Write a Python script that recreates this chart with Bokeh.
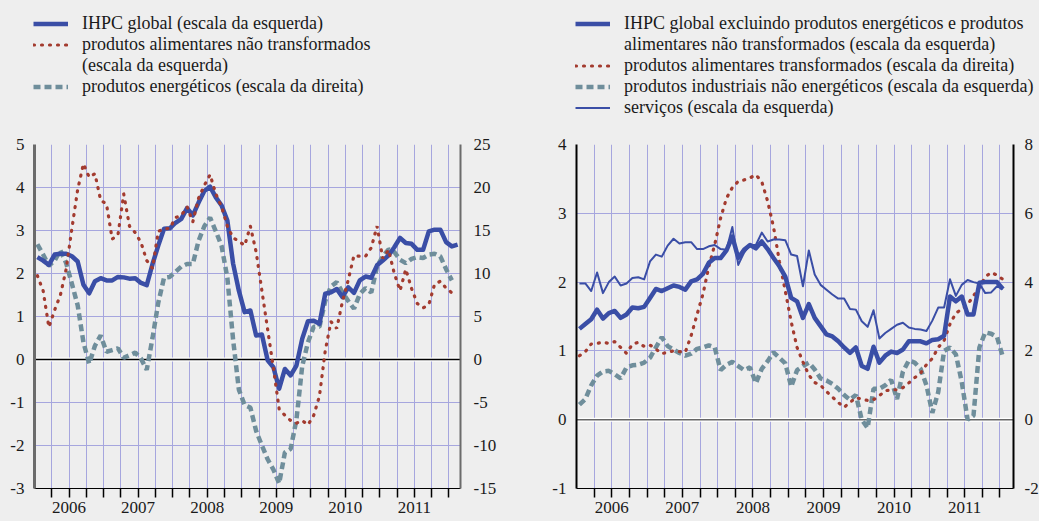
from bokeh.plotting import figure
from bokeh.models import Range1d, LinearAxis, FixedTicker, Span, Legend, LegendItem
from bokeh.layouts import row, column
from bokeh.embed import file_html
from bokeh.resources import INLINE

# ---------------- data (monthly, index 0 = Jan 2006) ----------------
years = ["2006", "2007", "2008", "2009", "2010", "2011"]

# left panel
ihpc_global = [2.38, 2.30, 2.20, 2.44, 2.46, 2.46, 2.40, 2.28, 1.74, 1.54,
               1.82, 1.89, 1.84, 1.84, 1.92, 1.91, 1.88, 1.89, 1.78, 1.73,
               2.22, 2.65, 3.04, 3.05, 3.18, 3.27, 3.52, 3.35, 3.65, 3.92,
               4.02, 3.77, 3.58, 3.23, 2.23, 1.60, 1.10, 1.14, 0.56, 0.58,
               -0.02, -0.18, -0.68, -0.22, -0.37, -0.14, 0.48, 0.89, 0.90, 0.83,
               1.53, 1.56, 1.64, 1.45, 1.68, 1.55, 1.84, 1.93, 1.90, 2.19,
               2.30, 2.42, 2.61, 2.83, 2.71, 2.69, 2.55, 2.55, 2.98, 3.02,
               3.02, 2.73, 2.63, 2.67]
alim_nao_transf = [1.95, 1.60, 0.75, 1.15, 1.50, 2.10, 3.05, 3.95, 4.55, 4.24,
                   4.32, 3.70, 3.62, 2.80, 2.90, 3.85, 3.10, 2.95, 2.72, 2.30,
                   2.12, 2.98, 3.04, 3.05, 3.30, 3.35, 3.55, 3.20, 3.75, 4.05,
                   4.30, 3.85, 3.55, 3.10, 2.83, 2.75, 2.65, 3.10, 2.50, 1.60,
                   0.70, -0.20, -1.15, -1.30, -1.42, -1.48, -1.42, -1.52, -1.30, -0.85,
                   0.20, 0.88, 0.72, 1.35, 1.85, 2.42, 2.40, 2.40, 2.60, 3.10,
                   2.35, 2.55, 2.00, 1.60, 2.10, 1.65, 1.30, 1.20, 1.28, 1.75,
                   1.82, 1.66, 1.55]
energeticos = [13.4, 12.2, 10.9, 11.5, 12.7, 11.2, 8.8, 6.3, 2.0, -0.5,
               1.6, 2.8, 0.9, 1.1, 1.3, 0.2, 0.5, 0.8, 0.1, -1.2,
               2.5, 6.6, 9.5, 9.6, 10.2, 10.8, 11.1, 11.1, 13.8, 15.5,
               16.5, 14.9, 13.2, 9.5, 2.3, -3.5, -5.3, -5.6, -8.3, -10.0,
               -11.6, -12.8, -14.4, -10.8, -10.4, -7.0, -0.8, 2.0, 3.8, 3.8,
               6.8, 8.5, 9.0, 7.8, 6.8, 5.9, 7.6, 8.3, 7.8, 10.8,
               12.0, 12.8, 12.5, 11.6, 11.2, 11.7, 11.9, 11.8, 12.2, 12.3,
               12.0, 10.5, 9.2]

# right panel
ihpc_excl = [1.32, 1.39, 1.46, 1.60, 1.47, 1.55, 1.58, 1.48, 1.53, 1.63,
             1.62, 1.64, 1.77, 1.90, 1.87, 1.91, 1.95, 1.93, 1.89, 2.01,
             2.04, 2.12, 2.28, 2.35, 2.35, 2.46, 2.66, 2.35, 2.47, 2.54,
             2.49, 2.59, 2.48, 2.35, 2.23, 2.08, 1.77, 1.72, 1.48, 1.68,
             1.48, 1.36, 1.24, 1.21, 1.14, 1.05, 0.97, 1.05, 0.78, 0.74,
             1.06, 0.83, 0.93, 0.99, 0.97, 1.02, 1.14, 1.14, 1.14, 1.11,
             1.16, 1.17, 1.22, 1.79, 1.72, 1.79, 1.53, 1.53, 1.99, 2.00,
             2.00, 2.00, 1.90]
alim_transf = [1.86, 1.98, 2.20, 2.22, 2.25, 2.22, 2.27, 2.10, 1.93, 2.19,
               2.25, 2.13, 2.17, 2.05, 1.92, 1.96, 2.00, 1.98, 1.96, 2.45,
               3.06, 3.65, 4.45, 5.09, 5.86, 6.44, 6.75, 6.93, 6.97, 7.03,
               7.12, 6.92, 6.35, 5.60, 4.60, 3.74, 2.85, 2.10, 1.68, 1.30,
               1.08, 1.00, 0.82, 0.66, 0.50, 0.36, 0.50, 0.64, 0.60, 0.56,
               0.58, 0.70, 0.84, 0.87, 0.87, 0.93, 1.07, 1.22, 1.35, 1.60,
               1.78, 2.10, 2.30, 2.78, 3.10, 3.21, 3.35, 3.60, 3.85, 4.15,
               4.28, 4.20, 4.08]
industriais = [0.22, 0.30, 0.50, 0.64, 0.70, 0.71, 0.66, 0.60, 0.76, 0.79,
               0.80, 0.83, 0.90, 1.05, 1.20, 1.07, 1.02, 0.97, 0.93, 0.96,
               1.03, 1.05, 1.08, 1.05, 0.72, 0.80, 0.84, 0.78, 0.72, 0.76,
               0.53, 0.74, 0.85, 0.98, 0.90, 0.82, 0.48, 0.72, 0.78, 0.83,
               0.73, 0.60, 0.57, 0.52, 0.45, 0.36, 0.29, 0.36, 0.00, -0.12,
               0.45, 0.45, 0.50, 0.58, 0.30, 0.70, 0.86, 0.83, 0.74, 0.50,
               0.10, 0.40, 1.00, 1.05, 0.95, 0.55, 0.00, 0.06, 1.05, 1.27,
               1.25, 1.20, 0.91]
servicos = [1.98, 1.98, 1.87, 2.14, 1.84, 2.00, 2.08, 1.95, 1.98, 2.06,
            2.07, 2.04, 2.30, 2.40, 2.37, 2.53, 2.63, 2.56, 2.58, 2.58,
            2.48, 2.48, 2.52, 2.54, 2.48, 2.47, 2.80, 2.25, 2.43, 2.54,
            2.54, 2.72, 2.59, 2.62, 2.62, 2.61, 2.40, 2.38, 1.94, 2.46,
            2.11, 1.96, 1.89, 1.82, 1.76, 1.76, 1.61, 1.60, 1.43, 1.35,
            1.59, 1.18, 1.26, 1.32, 1.38, 1.41, 1.34, 1.32, 1.31, 1.29,
            1.44, 1.63, 1.63, 2.04, 1.80, 1.96, 2.03, 2.00, 1.98, 1.84,
            1.85, 1.94, 1.90]

# ---------------- style ----------------
FONT = "Liberation Serif"
BG = "#eeeeee"
GRID = "#a6a6de"
TXT = "#1a1a1a"
BLUE = "#3a4ea6"
RED = "#a33b2f"
GRAY = "#6f8e9b"

LEG_H = 134      # height of the legend strip above the charts
TOP = 10
BOT = 33
FRAME_H = 344

quarter_ticks = list(range(3, 73, 3))
year_ticks = [6 + 12 * k for k in range(len(years))]

STYLE_GLOBAL = dict(line_color=BLUE, line_width=4.5, line_join="round")
STYLE_SERV = dict(line_color=BLUE, line_width=2, line_join="round")
STYLE_DOT = dict(line_color=RED, line_width=3.2, line_dash="1 7", line_cap="round")
STYLE_DASH = dict(line_color=GRAY, line_width=4.5, line_dash="7 4")
STYLE_NONE = dict(line_alpha=0)


def xs(series):
    # monthly observations plotted at mid-month
    return [i + 0.5 for i in range(len(series))]


def make_fig(frame_w, bl, br, x_end, ylo, yhi, ystep, rlo, rhi, rstep,
             lcol, lw, rcol, rw, r_standoff, zero_col):
    p = figure(frame_width=frame_w, frame_height=FRAME_H, x_range=Range1d(0, x_end),
               y_range=Range1d(ylo, yhi), output_backend="svg",
               toolbar_location=None, min_border_left=bl, min_border_right=br,
               min_border_top=TOP, min_border_bottom=BOT,
               background_fill_color=BG, border_fill_color=BG,
               outline_line_color=None)
    p.extra_y_ranges = {"r": Range1d(rlo, rhi)}
    lt = list(range(ylo, yhi + 1, ystep))
    rt = list(range(rlo, rhi + 1, rstep))
    p.add_layout(LinearAxis(y_range_name="r", ticker=FixedTicker(ticks=rt)), "right")

    p.xgrid.ticker = FixedTicker(ticks=quarter_ticks)
    p.ygrid.ticker = FixedTicker(ticks=lt)
    for g in (p.xgrid[0], p.ygrid[0]):
        g.grid_line_color = GRID
        g.grid_line_width = 1

    xa = p.xaxis[0]
    xa.ticker = FixedTicker(ticks=year_ticks, minor_ticks=quarter_ticks)
    xa.major_label_overrides = {t: y for t, y in zip(year_ticks, years)}
    xa.axis_line_color = "black"
    xa.axis_line_width = 1
    xa.major_tick_line_color = None
    xa.major_tick_out = 0
    xa.major_tick_in = 0
    xa.minor_tick_line_color = "black"
    xa.minor_tick_line_width = 1.5
    xa.minor_tick_out = 9
    xa.minor_tick_in = 0
    xa.major_label_standoff = 4
    xa.major_label_text_font = FONT
    xa.major_label_text_font_size = "17px"
    xa.major_label_text_color = TXT

    la = p.left[0]
    la.ticker = FixedTicker(ticks=lt)
    ra = p.right[0]
    for ax, col, w, so, ticks in ((la, lcol, lw, 10, lt), (ra, rcol, rw, r_standoff, rt)):
        ax.axis_line_color = col
        ax.axis_line_width = w
        ax.major_tick_line_color = None
        ax.minor_tick_line_color = None
        ax.major_tick_out = 0
        ax.major_tick_in = 0
        ax.major_label_standoff = so
        ax.major_label_overrides = {t: str(t) for t in ticks}
        ax.major_label_text_font = FONT
        ax.major_label_text_font_size = "17px"
        ax.major_label_text_color = TXT

    p.add_layout(Span(location=0, dimension="width", line_color="white",
                      line_width=4, level="underlay"))
    p.add_layout(Span(location=0, dimension="width", line_color=zero_col,
                      line_width=1.5, level="underlay"))
    return p


def make_legend(q, entries, loc):
    items = []
    for label, style in entries:
        # legend-only renderer: a single missing point, nothing is drawn in the strip
        r = q.line(x=[float("nan")], y=[float("nan")], **style)
        items.append(LegendItem(label=label, renderers=[r]))
    leg = Legend(items=items, location=loc, border_line_color=None,
                 background_fill_alpha=0, padding=0, margin=0, spacing=0,
                 glyph_width=35, glyph_height=21, label_height=21,
                 label_standoff=14, label_text_font=FONT,
                 label_text_font_size="18px", label_text_color=TXT)
    q.add_layout(leg)


# ---------------- legend strip (spans both panels) ----------------
strip = figure(width=1039, height=LEG_H, x_range=Range1d(0, 1), y_range=Range1d(0, 1),
               x_axis_type=None, y_axis_type=None, output_backend="svg",
               toolbar_location=None, min_border=0,
               background_fill_color=BG, border_fill_color=BG,
               outline_line_color=None)
strip.xgrid.visible = False
strip.ygrid.visible = False

make_legend(strip, [
    ("IHPC global (escala da esquerda)", STYLE_GLOBAL),
    ("produtos alimentares não transformados", STYLE_DOT),
    ("(escala da esquerda)", STYLE_NONE),
    ("produtos energéticos (escala da direita)", STYLE_DASH),
], (33, 37))
make_legend(strip, [
    ("IHPC global excluindo produtos energéticos e produtos", STYLE_GLOBAL),
    ("alimentares não transformados (escala da esquerda)", STYLE_NONE),
    ("produtos alimentares transformados (escala da direita)", STYLE_DOT),
    ("produtos industriais não energéticos (escala da esquerda)", STYLE_DASH),
    ("serviços (escala da esquerda)", STYLE_SERV),
], (575, 16))

# ---------------- left panel ----------------
p1 = make_fig(426, 34, 58, 74, -3, 5, 1, -15, 25, 5,
              "#6b6b6b", 3, "#6b6b6b", 2, 13, "black")
p1.line(xs(energeticos), energeticos, y_range_name="r", **STYLE_DASH)
p1.line(xs(ihpc_global), ihpc_global, **STYLE_GLOBAL)
p1.line(xs(alim_nao_transf), alim_nao_transf, **STYLE_DOT)

# ---------------- right panel ----------------
p2 = make_fig(437, 58, 26, 74.3, -1, 4, 1, -2, 8, 2,
              "black", 2, "black", 2, 11, "#666666")
p2.line(xs(industriais), industriais, **STYLE_DASH)
p2.line(xs(alim_transf), alim_transf, y_range_name="r", **STYLE_DOT)
p2.line(xs(servicos), servicos, **STYLE_SERV)
p2.line(xs(ihpc_excl), ihpc_excl, **STYLE_GLOBAL)

layout = column(strip, row(p1, p2))
html = file_html(layout, INLINE)
html = html.replace("<head>", "<head><style>html,body{background:#eeeeee;overflow:hidden;}</style>", 1)
open("out.html", "w").write(html)
